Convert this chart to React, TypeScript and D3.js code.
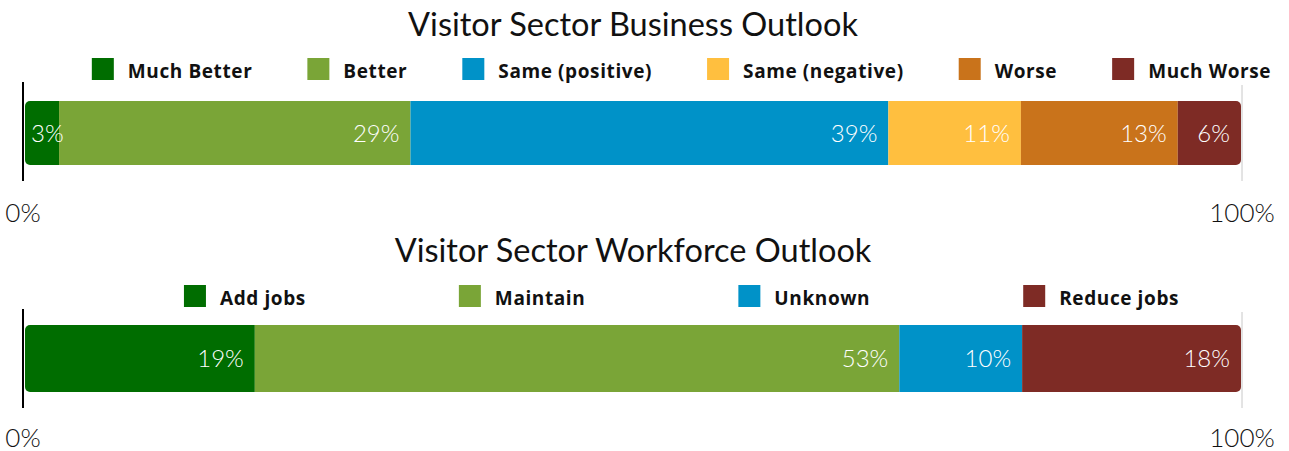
import React, { useEffect, useRef } from "react";
import * as d3 from "d3";

const businessTitle = "Visitor Sector Business Outlook";
const businessCategories = ["Much Better", "Better", "Same (positive)", "Same (negative)", "Worse", "Much Worse"];
const businessValues = [2.8, 28.9, 39.3, 10.9, 12.9, 5.2];
const businessLabels = ["3%", "29%", "39%", "11%", "13%", "6%"];
const businessColors = ["#006d00", "#7aa537", "#0092c8", "#ffbf3f", "#c9731b", "#7e2b25"];

const workforceTitle = "Visitor Sector Workforce Outlook";
const workforceCategories = ["Add jobs", "Maintain", "Unknown", "Reduce jobs"];
const workforceValues = [18.9, 53.0, 10.1, 18.0];
const workforceLabels = ["19%", "53%", "10%", "18%"];
const workforceColors = ["#006d00", "#7aa537", "#0092c8", "#7e2b25"];

const tickValues = [0, 100];
const tickLabels = ["0%", "100%"];

const W = 1289;
const H = 451;
const FONT = "Lato, 'Noto Sans', sans-serif";
const LEGEND_FONT = "'Open Sans', Lato, sans-serif";

type Panel = {
  title: string;
  cats: string[];
  vals: number[];
  labels: string[];
  colors: string[];
  titleY: number;
  legendTop: number;
  legendGap: number;
  barTop: number;
  barH: number;
  axisTop: number;
  axisBottom: number;
  tickY: number;
};

const panels: Panel[] = [
  {
    title: businessTitle, cats: businessCategories, vals: businessValues, labels: businessLabels, colors: businessColors,
    titleY: 36, legendTop: 58, legendGap: 55, barTop: 101, barH: 64, axisTop: 82, axisBottom: 181, tickY: 222,
  },
  {
    title: workforceTitle, cats: workforceCategories, vals: workforceValues, labels: workforceLabels, colors: workforceColors,
    titleY: 262, legendTop: 285, legendGap: 153, barTop: 325, barH: 67, axisTop: 309, axisBottom: 408, tickY: 447,
  },
];

export default function App() {
  const ref = useRef<SVGSVGElement | null>(null);

  useEffect(() => {
    const svg = d3.select(ref.current);
    svg.selectAll("*").remove();
    const x = d3.scaleLinear().domain([0, 100]).range([25, 1241]);
    const legendCenter = 681.5;

    panels.forEach((p, pi) => {
      const g = svg.append("g");
      // title
      g.append("text")
        .attr("x", (x(0) + x(100)) / 2)
        .attr("y", p.titleY)
        .attr("text-anchor", "middle")
        .attr("font-family", FONT)
        .attr("font-size", 32.5)
        .attr("fill", "#111")
        .text(p.title);

      // legend
      const lg = g.append("g");
      const items = p.cats.map((c, i) => {
        const it = lg.append("g");
        it.append("rect").attr("x", 0).attr("y", p.legendTop).attr("width", 22).attr("height", 22).attr("fill", p.colors[i]);
        const t = it.append("text")
          .attr("x", 36)
          .attr("y", p.legendTop + 20)
          .attr("font-family", LEGEND_FONT)
          .attr("font-weight", 700)
          .attr("font-size", 19)
          .attr("letter-spacing", 0.6)
          .attr("fill", "#111")
          .text(c);
        const w = 36 + (t.node() as SVGTextElement).getComputedTextLength();
        return { it, w };
      });
      const total = d3.sum(items, (d) => d.w) + p.legendGap * (items.length - 1);
      let cx = legendCenter - total / 2;
      items.forEach((d) => {
        d.it.attr("transform", `translate(${cx},0)`);
        cx += d.w + p.legendGap;
      });

      // bars
      const cum = d3.cumsum(p.vals);
      const starts = p.vals.map((v, i) => cum[i] - v);
      const clipId = `clip-${pi}`;
      g.append("clipPath").attr("id", clipId)
        .append("rect")
        .attr("x", x(0)).attr("y", p.barTop)
        .attr("width", x(cum[cum.length - 1]) - x(0)).attr("height", p.barH)
        .attr("rx", 5).attr("ry", 5);
      const bars = g.append("g").attr("clip-path", `url(#${clipId})`);
      bars.selectAll("rect").data(p.vals).join("rect")
        .attr("x", (_, i) => x(starts[i]))
        .attr("y", p.barTop)
        .attr("width", (_, i) => x(cum[i]) - x(starts[i]))
        .attr("height", p.barH)
        .attr("fill", (_, i) => p.colors[i]);

      const labG = g.append("g");
      p.vals.forEach((v, i) => {
        const t = labG.append("text")
          .attr("y", p.barTop + p.barH / 2 + 8.5)
          .attr("font-family", FONT)
          .attr("font-weight", 300)
          .attr("font-size", 24)
          .attr("fill", "#fff")
          .text(p.labels[i]);
        const tw = (t.node() as SVGTextElement).getComputedTextLength();
        const right = x(cum[i]) - 11;
        const left = x(starts[i]) + 6;
        if (right - tw < left) {
          t.attr("x", left).attr("text-anchor", "start");
        } else {
          t.attr("x", right).attr("text-anchor", "end");
        }
      });

      // axis lines
      g.append("line")
        .attr("x1", x(100) + 1).attr("x2", x(100) + 1)
        .attr("y1", p.axisTop + 3).attr("y2", p.axisBottom)
        .attr("stroke", "#c8c8c8").attr("stroke-width", 1);
      g.append("line")
        .attr("x1", x(0) - 2).attr("x2", x(0) - 2)
        .attr("y1", p.axisTop).attr("y2", p.axisBottom)
        .attr("stroke", "#000").attr("stroke-width", 2);

      // tick labels
      tickValues.forEach((tv, i) => {
        g.append("text")
          .attr("x", tv === 0 ? x(tv) - 2 : x(tv) + 1)
          .attr("y", p.tickY)
          .attr("text-anchor", "middle")
          .attr("font-family", FONT)
          .attr("font-weight", 300)
          .attr("font-size", 26)
          .attr("fill", "#111")
          .text(tickLabels[i]);
      });
    });
  }, []);

  return (
    <svg ref={ref} width={W} height={H} style={{ position: "absolute", left: 0, top: 0, background: "#fff" }} />
  );
}
